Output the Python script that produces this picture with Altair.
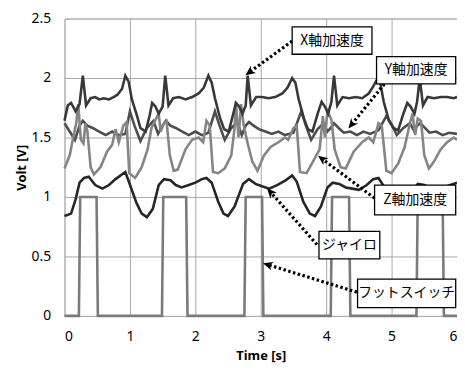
import math
import altair as alt
import pandas as pd

# ---------------- data ----------------
x_t = [0.0, 0.05, 0.10, 0.17, 0.23, 0.28, 0.33, 0.40, 0.47, 0.53, 0.60, 0.68, 0.75, 0.81, 0.88, 0.93, 0.98,
       1.03, 1.11, 1.16, 1.24, 1.30, 1.34, 1.39, 1.44, 1.50, 1.54, 1.59, 1.66, 1.75, 1.85, 1.95, 2.05, 2.13,
       2.20, 2.25, 2.30, 2.38, 2.44, 2.51, 2.58, 2.62, 2.67, 2.72, 2.77, 2.80, 2.85, 2.93, 3.02, 3.12, 3.22,
       3.33, 3.41, 3.48, 3.53, 3.58, 3.66, 3.72, 3.79, 3.87, 3.93, 3.98, 4.03, 4.08, 4.12, 4.17, 4.25, 4.35,
       4.45, 4.55, 4.65, 4.72, 4.78, 4.83, 4.88, 4.96, 5.03, 5.10, 5.18, 5.24, 5.29, 5.35, 5.39, 5.43, 5.48,
       5.55, 5.65, 5.75, 5.85, 5.95, 6.0]
x_v = [1.64, 1.77, 1.79, 1.72, 1.78, 2.02, 1.77, 1.83, 1.84, 1.82, 1.83, 1.82, 1.84, 1.86, 1.91, 2.02, 1.97,
       1.82, 1.68, 1.58, 1.55, 1.68, 1.79, 1.76, 1.70, 1.76, 2.02, 1.77, 1.83, 1.84, 1.82, 1.84, 1.87, 1.92,
       2.02, 1.96, 1.83, 1.66, 1.57, 1.55, 1.70, 1.79, 1.76, 1.70, 1.77, 2.02, 1.77, 1.84, 1.84, 1.83, 1.84,
       1.87, 1.92, 2.00, 1.96, 1.82, 1.66, 1.57, 1.55, 1.70, 1.80, 1.76, 1.70, 1.80, 2.02, 1.77, 1.84, 1.83,
       1.84, 1.83, 1.87, 1.93, 1.99, 1.95, 1.80, 1.64, 1.58, 1.56, 1.70, 1.79, 1.76, 1.70, 1.80, 2.00, 1.77,
       1.84, 1.83, 1.84, 1.84, 1.83, 1.84]

y_t = [0.0, 0.08, 0.16, 0.23, 0.28, 0.35, 0.43, 0.53, 0.63, 0.73, 0.83, 0.93, 1.00, 1.07, 1.16, 1.26, 1.36,
       1.43, 1.50, 1.55, 1.62, 1.70, 1.80, 1.90, 2.00, 2.10, 2.20, 2.30, 2.37, 2.45, 2.55, 2.64, 2.71, 2.77,
       2.82, 2.89, 2.97, 3.07, 3.17, 3.27, 3.37, 3.50, 3.62, 3.69, 3.77, 3.87, 3.96, 4.02, 4.07, 4.12, 4.19,
       4.27, 4.37, 4.47, 4.57, 4.67, 4.80, 4.92, 4.99, 5.08, 5.18, 5.28, 5.35, 5.39, 5.44, 5.51, 5.58, 5.68,
       5.78, 5.88, 6.0]
y_v = [1.62, 1.55, 1.48, 1.60, 1.64, 1.60, 1.58, 1.55, 1.52, 1.55, 1.52, 1.53, 1.72, 1.60, 1.47, 1.58, 1.64,
       1.53, 1.60, 1.64, 1.60, 1.58, 1.55, 1.52, 1.55, 1.52, 1.54, 1.72, 1.60, 1.48, 1.58, 1.63, 1.52, 1.60,
       1.63, 1.60, 1.57, 1.55, 1.53, 1.55, 1.52, 1.54, 1.72, 1.60, 1.48, 1.57, 1.62, 1.55, 1.58, 1.62, 1.58,
       1.54, 1.55, 1.52, 1.55, 1.53, 1.56, 1.68, 1.62, 1.52, 1.58, 1.62, 1.55, 1.60, 1.62, 1.58, 1.54, 1.55,
       1.52, 1.54, 1.53]

z_t = [0.0, 0.08, 0.14, 0.18, 0.21, 0.25, 0.29, 0.32, 0.35, 0.40, 0.45, 0.55, 0.65, 0.73, 0.78, 0.83, 0.90,
       0.95, 0.99, 1.08, 1.18, 1.27, 1.33, 1.44, 1.47, 1.52, 1.56, 1.61, 1.67, 1.73, 1.85, 1.95, 2.05, 2.12,
       2.17, 2.22, 2.27, 2.35, 2.45, 2.55, 2.60, 2.62, 2.66, 2.70, 2.74, 2.80, 2.87, 2.95, 3.05, 3.15, 3.27,
       3.37, 3.42, 3.50, 3.55, 3.60, 3.70, 3.80, 3.90, 3.95, 3.98, 4.02, 4.08, 4.13, 4.22, 4.30, 4.42, 4.55,
       4.65, 4.72, 4.80, 4.85, 4.92, 5.00, 5.10, 5.20, 5.28, 5.32, 5.36, 5.40, 5.45, 5.50, 5.57, 5.65, 5.75,
       5.85, 5.95, 6.0]
z_v = [1.24, 1.35, 1.52, 1.62, 1.78, 1.48, 1.45, 1.62, 1.55, 1.25, 1.19, 1.25, 1.38, 1.44, 1.57, 1.46, 1.60,
       1.63, 1.20, 1.16, 1.25, 1.40, 1.58, 1.70, 1.55, 1.62, 1.64, 1.35, 1.22, 1.23, 1.40, 1.48, 1.50, 1.46,
       1.64, 1.60, 1.21, 1.20, 1.24, 1.35, 1.58, 1.80, 1.50, 1.78, 1.60, 1.45, 1.30, 1.22, 1.35, 1.42, 1.46,
       1.50, 1.48, 1.58, 1.60, 1.21, 1.20, 1.30, 1.40, 1.68, 1.50, 1.72, 1.65, 1.40, 1.25, 1.24, 1.38, 1.46,
       1.50, 1.46, 1.62, 1.60, 1.22, 1.20, 1.28, 1.42, 1.62, 1.70, 1.52, 1.66, 1.64, 1.35, 1.24, 1.30, 1.40,
       1.46, 1.50, 1.48]

g_t = [0.0, 0.10, 0.17, 0.23, 0.30, 0.37, 0.47, 0.58, 0.68, 0.78, 0.93, 0.99, 1.10, 1.18, 1.26, 1.35, 1.44,
       1.52, 1.62, 1.70, 1.79, 1.90, 2.00, 2.10, 2.17, 2.25, 2.35, 2.43, 2.50, 2.60, 2.73, 2.82, 2.92, 3.02,
       3.13, 3.25, 3.38, 3.48, 3.55, 3.65, 3.75, 3.83, 3.92, 4.02, 4.10, 4.20, 4.30, 4.40, 4.50, 4.62, 4.72,
       4.80, 4.87, 4.95, 5.05, 5.12, 5.22, 5.32, 5.40, 5.50, 5.60, 5.70, 5.80, 5.90, 6.0]
g_v = [0.84, 0.86, 0.98, 1.12, 1.16, 1.17, 1.10, 1.07, 1.10, 1.15, 1.21, 1.12, 0.95, 0.86, 0.83, 0.90, 1.10,
       1.15, 1.14, 1.10, 1.08, 1.10, 1.12, 1.15, 1.16, 1.12, 0.96, 0.86, 0.84, 0.92, 1.11, 1.15, 1.11, 1.09,
       1.07, 1.10, 1.14, 1.18, 1.13, 0.96, 0.86, 0.84, 0.92, 1.08, 1.12, 1.11, 1.08, 1.07, 1.06, 1.10, 1.15,
       1.16, 1.10, 0.98, 0.88, 0.86, 0.92, 1.05, 1.11, 1.10, 1.07, 1.05, 1.08, 1.10, 1.12]

f_t = [0.0, 0.22, 0.24, 0.49, 0.51, 1.49, 1.51, 1.86, 1.88, 2.75, 2.77, 3.02, 3.04, 4.07, 4.09, 4.35, 4.37,
       5.38, 5.40, 5.78, 5.80, 6.0]
f_v = [0, 0, 1, 1, 0, 0, 1, 1, 0, 0, 1, 1, 0, 0, 1, 1, 0, 0, 1, 1, 0, 0]

# annotation boxes
ann_text = ["X軸加速度", "Y軸加速度", "Z軸加速度", "ジャイロ", "フットスイッチ"]
ann_x1 = [3.48, 4.77, 4.74, 3.89, 4.48]
ann_x2 = [4.70, 5.98, 5.98, 4.82, 5.98]
ann_y1 = [2.43, 2.18, 1.10, 0.71, 0.31]
ann_y2 = [2.20, 1.95, 0.85, 0.48, 0.07]
# arrows (start at box, end at curve)
arr_x1 = [3.48, 4.89, 4.74, 3.86, 4.47]
arr_y1 = [2.31, 1.95, 0.99, 0.60, 0.20]
arr_x2 = [2.83, 4.39, 3.94, 3.15, 3.11]
arr_y2 = [2.05, 1.61, 1.32, 1.04, 0.43]

W, H = 396, 300
PX_X = W / 6.0
PX_Y = H / 2.5


def series(name, t, v):
    return pd.DataFrame({"t": t, "v": v, "s": name, "i": range(len(t))})


colors = {"foot": "#7a7a7a", "gyro": "#262626", "z": "#858585", "y": "#4d4d4d", "x": "#383838"}
data = {"foot": (f_t, f_v), "gyro": (g_t, g_v), "y": (y_t, y_v), "z": (z_t, z_v), "x": (x_t, x_v)}

xs = alt.Scale(domain=[0, 6], nice=False)
ys = alt.Scale(domain=[0, 2.5], nice=False)

layers = []
first = True
for name, (t, v) in data.items():
    df = series(name, t, v)
    if first:
        xe = alt.X("t:Q", scale=xs, axis=alt.Axis(values=[0, 1, 2, 3, 4, 5, 6], title="Time [s]", format="d"))
        ye = alt.Y("v:Q", scale=ys, axis=alt.Axis(values=[0, 0.5, 1, 1.5, 2, 2.5], title="Volt [V]",
                                                  labelExpr="datum.value + ''"))
    else:
        xe = alt.X("t:Q", scale=xs)
        ye = alt.Y("v:Q", scale=ys)
    layers.append(alt.Chart(df).mark_line(color=colors[name], strokeWidth=2.6, interpolate="linear").encode(
        x=xe, y=ye, order=alt.Order("i:Q")))
    first = False

ann = pd.DataFrame({"text": ann_text, "x1": ann_x1, "x2": ann_x2, "y1": ann_y1, "y2": ann_y2,
                    "xm": [(a + b) / 2 for a, b in zip(ann_x1, ann_x2)],
                    "ym": [(a + b) / 2 for a, b in zip(ann_y1, ann_y2)]})

angles = []
for a, b, c, d in zip(arr_x1, arr_y1, arr_x2, arr_y2):
    dx = (c - a) * PX_X
    dy = -(d - b) * PX_Y
    angles.append(math.degrees(math.atan2(dx, -dy)) % 360)
arr = pd.DataFrame({"x1": arr_x1, "y1": arr_y1, "x2": arr_x2, "y2": arr_y2, "ang": angles})

rules = alt.Chart(arr).mark_rule(color="black", strokeWidth=3.2, strokeDash=[2.5, 2.5]).encode(
    x=alt.X("x1:Q", scale=xs), y=alt.Y("y1:Q", scale=ys), x2="x2:Q", y2="y2:Q")
heads = alt.Chart(arr).mark_point(filled=True, color="black", opacity=1, size=110,
                                  shape="M0,-1L0.85,0.9L0,0.35L-0.85,0.9Z").encode(
    x=alt.X("x2:Q", scale=xs), y=alt.Y("y2:Q", scale=ys), angle=alt.Angle("ang:Q", scale=None))
boxes = alt.Chart(ann).mark_rect(fill="white", stroke="black", strokeWidth=1.3).encode(
    x=alt.X("x1:Q", scale=xs), x2="x2:Q", y=alt.Y("y1:Q", scale=ys), y2="y2:Q")
texts = alt.Chart(ann).mark_text(font="Noto Sans CJK JP", fontSize=14, color="black", baseline="middle",
                                 align="center").encode(
    x=alt.X("xm:Q", scale=xs), y=alt.Y("ym:Q", scale=ys), text="text:N")

chart = alt.layer(*layers, rules, heads, boxes, texts).properties(
    width=W, height=H,
    autosize=alt.AutoSizeParams(type="none"),
    padding={"left": 57, "top": 9, "right": 0, "bottom": 60},
).configure_view(stroke="#bdbdbd", strokeWidth=1).configure_axis(
    grid=True, gridColor="#a8a8a8", gridWidth=1, domain=False, ticks=False,
    labelFont="Noto Sans", labelFontSize=14, labelColor="black",
    titleFont="Noto Sans", titleFontSize=13, titleFontWeight="bold", titleColor="black",
).configure_axisX(labelPadding=14, titlePadding=6).configure_axisY(labelPadding=14, titlePadding=3)

chart.save("out.html", embed_options={"renderer": "svg", "actions": False})
